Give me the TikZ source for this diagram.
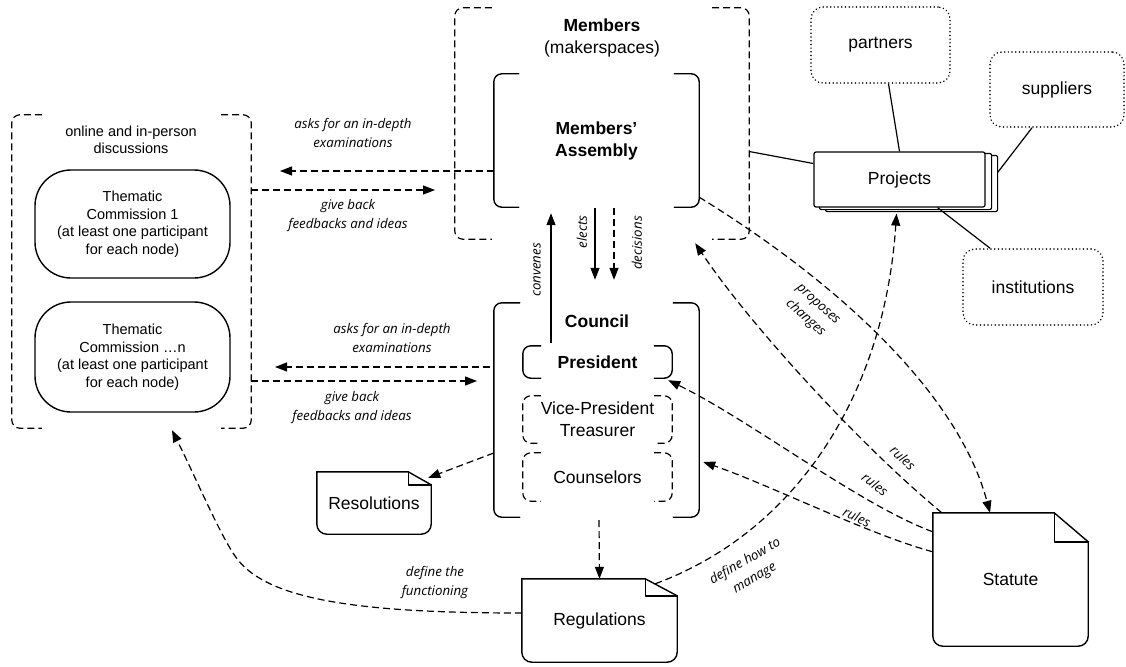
\documentclass[tikz,border=0pt]{standalone}
\usepackage{fontspec}
\setmainfont{Liberation Sans}
\newfontfamily\lblfont{Open Sans}
\usetikzlibrary{arrows.meta,backgrounds,calc}

\tikzset{
  txt/.style={align=center, inner sep=0pt, font=\fontsize{17.5}{22}\selectfont},
  btxt/.style={align=center, inner sep=0pt, font=\bfseries\fontsize{17.5}{22}\selectfont},
  small/.style={align=center, inner sep=0pt, font=\fontsize{14.5}{17.5}\selectfont},
  lbl/.style={align=center, inner sep=0pt, font=\lblfont\itshape\fontsize{13.3}{19}\selectfont},
  area/.style={inner sep=0pt},
  solidline/.style={line width=1.4pt, rounded corners=8pt, line cap=round},
  dashline/.style={line width=1.2pt, dash pattern=on 7pt off 4pt, rounded corners=8pt},
  docline/.style={line width=1.4pt, line cap=round},
  arr/.style={line width=1.2pt, -{Triangle[length=12pt,width=9pt]}},
  darr/.style={arr, dash pattern=on 7pt off 4pt},
  dotbox/.style={txt, draw, line width=1.6pt, dash pattern=on 0.1pt off 3.6pt, line cap=round, rounded corners=12pt},
  sheet/.style={draw=black, fill=white, line width=1.2pt, rounded corners=2pt},
  link/.style={line width=1.2pt}
}

\newcommand{\mkbrk}[3]{%
  \draw[#3] ([xshift=#2]#1.north west) -- (#1.north west) -- (#1.south west) -- ([xshift=#2]#1.south west);
  \draw[#3] ([xshift=-#2]#1.north east) -- (#1.north east) -- (#1.south east) -- ([xshift=-#2]#1.south east);}

\newcommand{\mkdoc}[3]{%
  \draw[docline, rounded corners=10pt] ([yshift=-#3]#1.north east) -- (#1.south east) -- (#1.south west) -- (#1.north west);
  \draw[docline, line join=round] (#1.north west) -- ([xshift=-#2]#1.north east) -- ([yshift=-#3]#1.north east);
  \draw[docline, line join=round] ([xshift=-#2]#1.north east) -- ([xshift=-#2,yshift=-#3]#1.north east) -- ([yshift=-#3]#1.north east);}

\begin{document}
\begin{tikzpicture}[x=1pt,y=-1pt]
\useasboundingbox (0,0) rectangle (1126,666);

% ---------- left group ----------
\node[area, minimum width=239pt, minimum height=313pt] (group) at (131.5,271.5) {};
\mkbrk{group}{30pt}{dashline}
\node[small, font=\fontsize{14.5}{16.5}\selectfont] (grouplbl) at (131,140) {online and in-person\\discussions};
\node[small, draw, line width=1.4pt, rounded corners=36pt, minimum width=195pt, minimum height=108pt] (tc1) at (132.5,224)
  {Thematic\\Commission 1\\(at least one participant\\for each node)};
\node[small, draw, line width=1.4pt, rounded corners=36pt, minimum width=195pt, minimum height=110pt] (tcn) at (132.5,357)
  {Thematic\\Commission …n\\(at least one participant\\for each node)};

% ---------- members ----------
\node[area, minimum width=294pt, minimum height=231pt] (members) at (602,123.5) {};
\mkbrk{members}{37pt}{dashline}
\node[txt] (memberslbl) at (602,37.5) {\textbf{Members}\\(makerspaces)};
\node[btxt, minimum width=205pt, minimum height=133pt] (assembly) at (596.5,140.5) {Members’\\Assembly};
\mkbrk{assembly}{25pt}{solidline}

% ---------- council ----------
\node[area, minimum width=205pt, minimum height=214pt] (council) at (596.5,410) {};
\mkbrk{council}{26pt}{solidline}
\node[btxt] (councillbl) at (597,321) {Council};
\node[btxt, minimum width=149pt, minimum height=32pt] (president) at (597.5,362) {President};
\mkbrk{president}{18pt}{solidline}
\node[txt, minimum width=149pt, minimum height=47pt] (vp) at (597.5,419.5) {Vice-President\\Treasurer};
\mkbrk{vp}{18pt}{dashline}
\node[txt, minimum width=149pt, minimum height=48pt] (couns) at (597.5,477) {Counselors};
\mkbrk{couns}{18pt}{dashline}

% ---------- projects and partners ----------
\node[txt, sheet, minimum width=171pt, minimum height=55pt] (projects) at (899.5,179.5) {Projects};
\begin{scope}[on background layer]
  \fill[white] (0,0) rectangle (1126,666);
  \draw[sheet] ([shift={(12pt,-4pt)}]projects.north west) rectangle ([shift={(12pt,-4pt)}]projects.south east);
  \draw[sheet] ([shift={(6pt,-2pt)}]projects.north west) rectangle ([shift={(6pt,-2pt)}]projects.south east);
\end{scope}
\node[dotbox, minimum width=139pt, minimum height=76pt] (partners) at (880.5,45) {partners};
\node[dotbox, minimum width=134pt, minimum height=75pt] (suppliers) at (1057,89.5) {suppliers};
\node[dotbox, minimum width=140pt, minimum height=76pt] (institutions) at (1033,287) {institutions};
\draw[link] ([xshift=8pt]partners.south) -- (projects.north);
\draw[link] ([xshift=-25pt]suppliers.south) -- ([shift={(12pt,7pt)}]projects.east);
\draw[link] ([xshift=-43pt]institutions.north) -- ([xshift=38pt]projects.south);
\draw[link] ([yshift=-28pt]members.east) -- ([yshift=16pt]projects.west);

% ---------- documents ----------
\node[txt, minimum width=114pt, minimum height=62pt] (resol) at (374,503) {Resolutions};
\mkdoc{resol}{23pt}{13pt}
\node[txt, minimum width=155pt, minimum height=83pt] (regs) at (599.5,620.5) {Regulations};
\mkdoc{regs}{32pt}{17pt}
\node[txt, minimum width=155pt, minimum height=133pt] (statute) at (1010.5,579.5) {Statute};
\mkdoc{statute}{34pt}{29pt}

% ---------- assembly <-> commissions ----------
\coordinate (asks1end) at (280,171);
\coordinate (give1end) at (435,190);
\draw[darr] ([yshift=-30.5pt]assembly.west) -- (asks1end);
\draw[darr] ([yshift=81.5pt]group.east) -- (give1end);
\node[lbl] (asks1lbl) at (353,133) {asks for an in-depth\\examinations};
\node[lbl] (give1lbl) at (348,216) {give back\\feedbacks and ideas};

% ---------- council <-> commissions ----------
\coordinate (asks2end) at (275,367);
\coordinate (give2end) at (477,381);
\draw[darr] ([xshift=-4pt,yshift=43pt]council.west) -- (asks2end);
\draw[darr] ([yshift=-109.5pt]group.east) -- (give2end);
\node[lbl] (asks2lbl) at (392,338) {asks for an in-depth\\examinations};
\node[lbl] (give2lbl) at (352,408) {give back\\feedbacks and ideas};

% ---------- assembly <-> council ----------
\draw[arr] ([xshift=-46.5pt,yshift=3pt]president.north) -- ([xshift=-45.5pt,yshift=-6pt]assembly.south);
\draw[arr] ([xshift=-1.5pt,yshift=-1pt]assembly.south) -- ([xshift=-1.5pt,yshift=23pt]council.north);
\draw[darr] ([xshift=17.5pt,yshift=-1pt]assembly.south) -- ([xshift=17.5pt,yshift=23pt]council.north);
\node[lbl, rotate=90] (convlbl) at (537,270) {convenes};
\node[lbl, rotate=90] (electlbl) at (582,232) {elects};
\node[lbl, rotate=90] (declbl) at (637,243) {decisions};

% ---------- council -> documents ----------
\draw[darr] ([yshift=-43pt]council.west) -- ([xshift=-3pt,yshift=-6pt]resol.north east);
\draw[darr] ([xshift=2.5pt,yshift=-3pt]council.south) -- (regs.north);

% ---------- regulations ----------
\draw[darr] ([yshift=7.5pt]regs.west) .. controls (360,613) and (270,600) .. (238,560)
  .. controls (222,540) and (197,480) .. ([xshift=40.5pt,yshift=-2pt]group.south);
\node[lbl] (funclbl) at (435,583) {define the\\functioning};
\draw[darr] ([xshift=-22pt,yshift=-5pt]regs.north east) .. controls (800,530) and (885,390) .. ([xshift=-3pt,yshift=-6pt]projects.south);
\node[lbl, rotate=30] (managelbl) at (750,570) {define how to\\manage};

% ---------- statute ----------
\draw[darr] ([yshift=10pt]assembly.south east) .. controls (850,290) and (960,400) .. ([xshift=-20.5pt]statute.north);
\node[lbl, rotate=-42] (proplbl) at (811,312) {proposes\\changes};
\draw[darr] ([xshift=9pt]statute.north west) .. controls (860,445) and (750,325) .. ([xshift=-54pt,yshift=-4pt]members.south east);
\draw[darr] ([yshift=-19pt]statute.north west) .. controls (860,505) and (750,420) .. ([xshift=-4pt,yshift=-2pt]president.south east);
\draw[darr] ([yshift=-39pt]statute.north west) .. controls (870,535) and (770,485) .. ([xshift=4pt,yshift=-52pt]council.east);
\node[lbl, rotate=-43] (rules1lbl) at (903,458) {rules};
\node[lbl, rotate=-37] (rules2lbl) at (875,484) {rules};
\node[lbl, rotate=-25] (rules3lbl) at (857,517) {rules};
\end{tikzpicture}
\end{document}
